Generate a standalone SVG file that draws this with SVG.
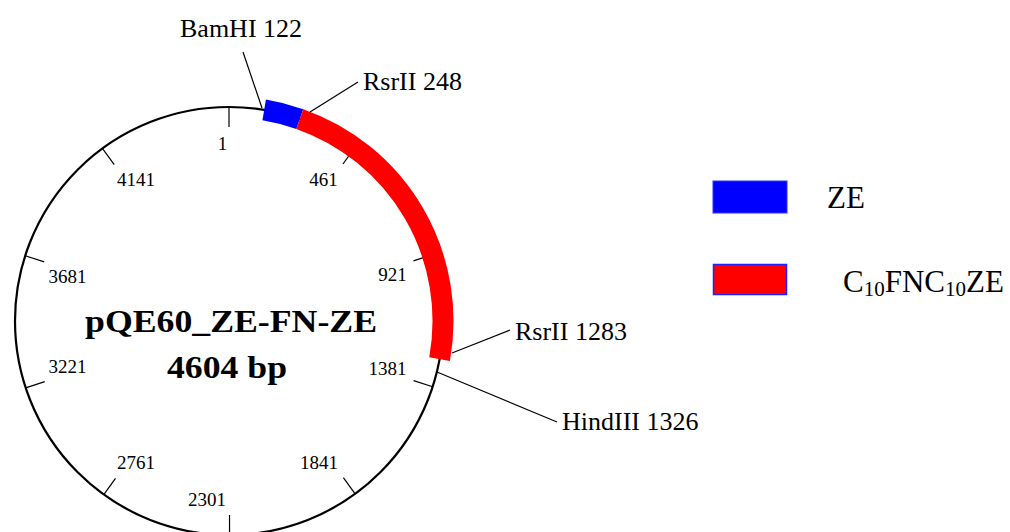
<svg xmlns="http://www.w3.org/2000/svg" width="1010" height="532" viewBox="0 0 1010 532">
<style>
.tick{stroke:#000;stroke-width:1.2;fill:none}
.pos{font-family:"Liberation Serif",serif;font-size:19px;fill:#000;text-anchor:middle}
.site{font-family:"Liberation Serif",serif;font-size:26px;fill:#000}
.lead{stroke:#000;stroke-width:1.2;fill:none}
.title{font-family:"Liberation Serif",serif;font-size:32px;font-weight:bold;fill:#000;text-anchor:middle}
.leg{font-family:"Liberation Serif",serif;font-size:31px;fill:#000}
</style>
<rect width="1010" height="532" fill="#fff"/>
<g id="plasmid">
<circle cx="229" cy="321" r="214" fill="none" stroke="#000" stroke-width="2.2"/>
<g id="ticks">
<line class="tick" x1="229" y1="107" x2="229" y2="127"/>
<line class="tick" x1="354.70" y1="147.81" x2="342.96" y2="164.00"/>
<line class="tick" x1="432.45" y1="254.64" x2="413.44" y2="260.84"/>
<line class="tick" x1="432.64" y1="386.80" x2="413.61" y2="380.66"/>
<line class="tick" x1="355.15" y1="493.87" x2="343.36" y2="477.71"/>
<line class="tick" x1="229.58" y1="535" x2="229.5" y2="515"/>
<line class="tick" x1="103.79" y1="494.53" x2="115.49" y2="478.31"/>
<line class="tick" x1="25.72" y1="387.92" x2="44.72" y2="381.66"/>
<line class="tick" x1="25.19" y1="255.75" x2="44.24" y2="261.85"/>
<line class="tick" x1="102.38" y1="148.47" x2="114.21" y2="164.60"/>
</g>
<g id="tick-labels">
<text class="pos" x="222.5" y="150">1</text>
<text class="pos" x="323.5" y="186">461</text>
<text class="pos" x="392.5" y="281">921</text>
<text class="pos" x="387.5" y="375">1381</text>
<text class="pos" x="319" y="469">1841</text>
<text class="pos" x="207" y="506">2301</text>
<text class="pos" x="136" y="469">2761</text>
<text class="pos" x="67.5" y="373">3221</text>
<text class="pos" x="67.5" y="283">3681</text>
<text class="pos" x="136" y="186">4141</text>
</g>
</g>
<g id="feature-ZE">
<path d="M264.18,109.91 A214,214 0 0 1 299.77,119.04" fill="none" stroke="#0000ff" stroke-width="21"/>
</g>
<g id="feature-C10FNC10ZE">
<path d="M299.77,119.04 A214,214 0 0 1 439.60,359.05" fill="none" stroke="#ff0000" stroke-width="21"/>
</g>
<g id="title">
<text class="title" x="231" y="332" textLength="292" lengthAdjust="spacingAndGlyphs">pQE60_ZE-FN-ZE</text>
<text class="title" x="227" y="378" textLength="120" lengthAdjust="spacingAndGlyphs">4604 bp</text>
</g>
<g id="connectors">
<line class="lead" x1="243" y1="52" x2="262" y2="108"/>
<line class="lead" x1="358" y1="82" x2="310" y2="112"/>
<line class="lead" x1="510" y1="330" x2="452" y2="353"/>
<line class="lead" x1="437" y1="372" x2="557" y2="422"/>
</g>
<g id="site-BamHI"><text class="site" x="180" y="37">BamHI 122</text></g>
<g id="site-RsrII-248"><text class="site" x="363" y="90">RsrII 248</text></g>
<g id="site-RsrII-1283"><text class="site" x="515" y="340">RsrII 1283</text></g>
<g id="site-HindIII"><text class="site" x="562" y="430">HindIII 1326</text></g>
<g id="legend-ZE">
<rect x="713" y="181" width="74" height="32" fill="#0000ff" stroke="#3333ff" stroke-width="1"/>
<text class="leg" x="827" y="208">ZE</text>
</g>
<g id="legend-C10FNC10ZE">
<rect x="713.5" y="264.5" width="73" height="30" fill="#ff0000" stroke="#2222ff" stroke-width="1.5"/>
<text class="leg" x="843" y="292">C<tspan font-size="21" dy="4">10</tspan><tspan dy="-4">FNC</tspan><tspan font-size="21" dy="4">10</tspan><tspan dy="-4">ZE</tspan></text>
</g>
</svg>
